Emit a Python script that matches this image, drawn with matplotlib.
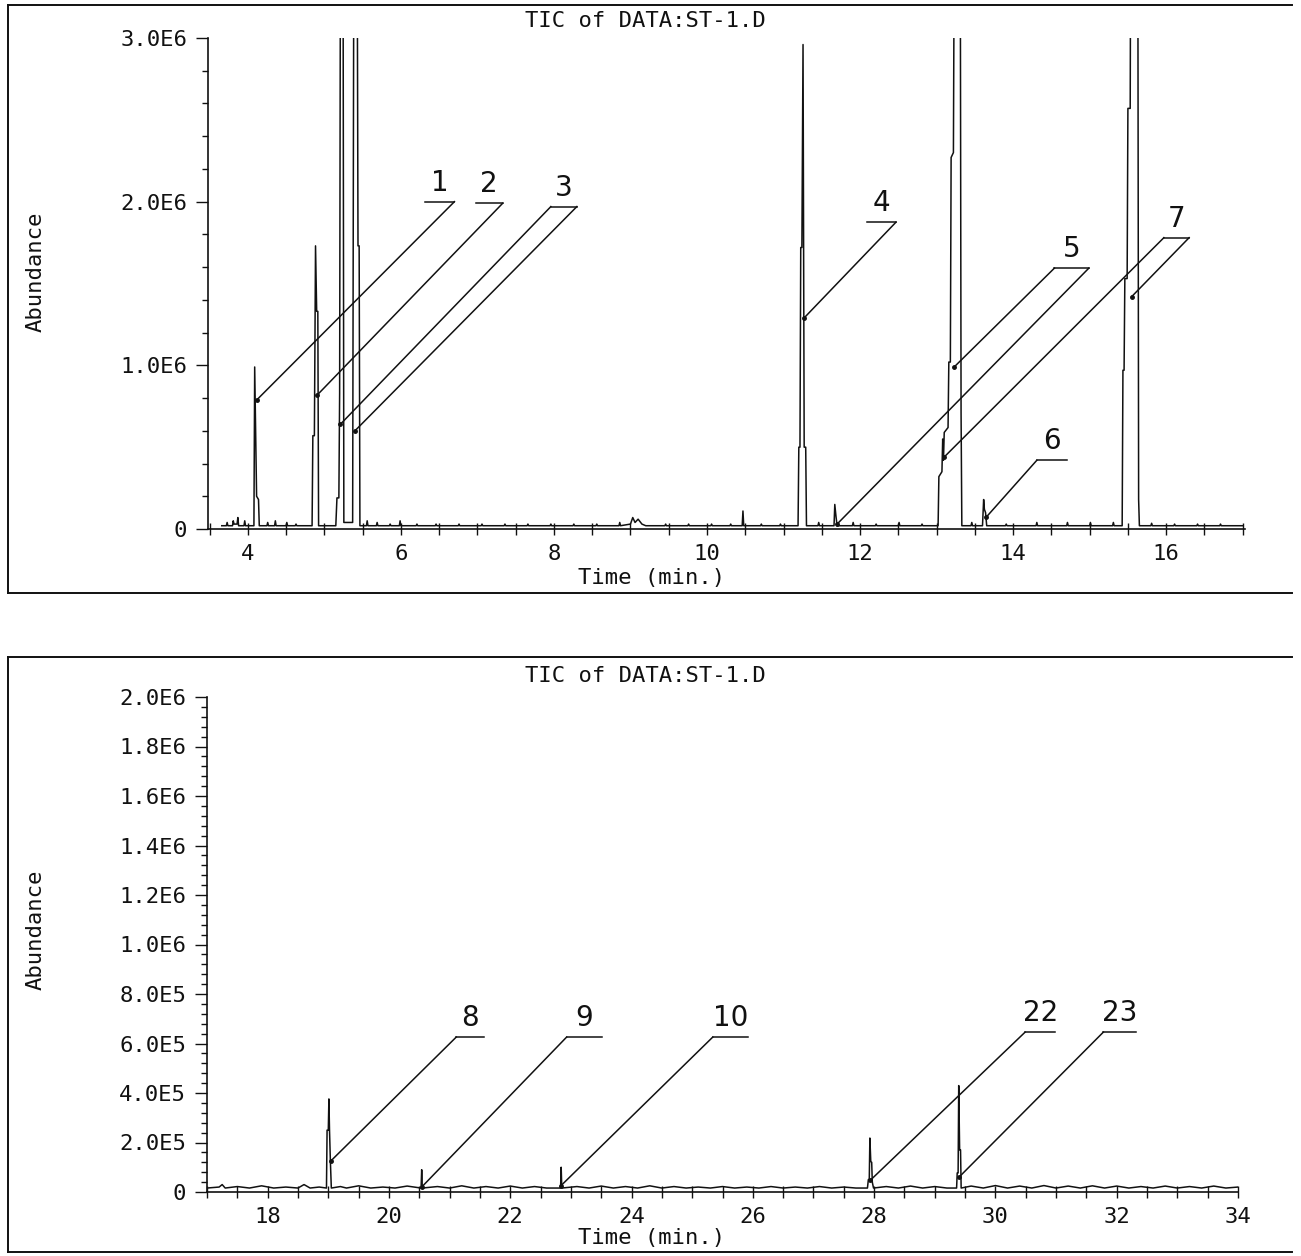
import matplotlib
matplotlib.use("Agg")
import matplotlib.pyplot as plt
from matplotlib.lines import Line2D
from matplotlib.ticker import FixedLocator, MultipleLocator, NullFormatter

# ------------------------------------------------------------------ data
title = "TIC of DATA:ST-1.D"
x_label = "Time (min.)"
y_label = "Abundance"

top_xticks = [4, 6, 8, 10, 12, 14, 16]
top_yticks = [0, 1.0e6, 2.0e6, 3.0e6]
top_yticklabels = ["0", "1.0E6", "2.0E6", "3.0E6"]

bot_xticks = [18, 20, 22, 24, 26, 28, 30, 32, 34]
bot_yticks = [0, 2e5, 4e5, 6e5, 8e5, 1.0e6, 1.2e6, 1.4e6, 1.6e6, 1.8e6, 2.0e6]
bot_yticklabels = ["0", "2.0E5", "4.0E5", "6.0E5", "8.0E5", "1.0E6",
                   "1.2E6", "1.4E6", "1.6E6", "1.8E6", "2.0E6"]

# chromatogram trace, retention time (min) and abundance (x 1E6)
top_time = [3.66, 3.72, 3.73, 3.74, 3.80, 3.81, 3.82, 3.86, 3.87, 3.88, 3.95, 3.96, 3.97,
            4.08, 4.09, 4.115, 4.14, 4.15,
            4.25, 4.26, 4.27, 4.35, 4.36, 4.37, 4.50, 4.51, 4.52, 4.62, 4.63, 4.64,
            4.84, 4.85, 4.87, 4.885, 4.90, 4.915, 4.925,
            5.15, 5.165, 5.19, 5.20, 5.21, 5.245, 5.255, 5.37, 5.385, 5.43, 5.44, 5.455, 5.465,
            5.55, 5.56, 5.57, 5.68, 5.69, 5.70, 5.85, 5.86, 5.87, 5.98, 5.99, 6.00,
            6.20, 6.21, 6.22, 6.45, 6.46, 6.47, 6.75, 6.76, 6.77, 7.05, 7.06, 7.07,
            7.35, 7.36, 7.37, 7.65, 7.66, 7.67, 7.95, 7.96, 7.97, 8.25, 8.26, 8.27,
            8.55, 8.56, 8.57, 8.85, 8.86, 8.87, 9.00, 9.03, 9.06, 9.10, 9.15, 9.20,
            9.45, 9.46, 9.47, 9.75, 9.76, 9.77, 10.05, 10.06, 10.07, 10.30, 10.31, 10.32,
            10.46, 10.47, 10.48, 10.70, 10.71, 10.72, 10.95, 10.96, 10.97,
            11.19, 11.20, 11.215, 11.225, 11.24, 11.255, 11.27, 11.29, 11.30,
            11.45, 11.46, 11.47,
            11.66, 11.67, 11.685, 11.70,
            11.90, 11.91, 11.92, 12.20, 12.21, 12.22, 12.50, 12.51, 12.52, 12.80, 12.81, 12.82,
            13.02, 13.03, 13.07, 13.08, 13.09, 13.10, 13.15, 13.16, 13.18, 13.19, 13.22,
            13.23, 13.31, 13.32, 13.33,
            13.45, 13.46, 13.47,
            13.60, 13.615, 13.625, 13.64, 13.655,
            13.90, 13.91, 13.92, 14.30, 14.31, 14.32, 14.70, 14.71, 14.72, 15.00, 15.01, 15.02,
            15.30, 15.31, 15.32,
            15.425, 15.435, 15.45, 15.46, 15.49, 15.50, 15.53, 15.535, 15.63, 15.64, 15.65,
            15.80, 15.81, 15.82, 16.10, 16.11, 16.12, 16.40, 16.41, 16.42, 16.70, 16.71,
            16.72, 17.00]
top_abund = [0.02, 0.02, 0.04, 0.02, 0.02, 0.05, 0.03, 0.03, 0.07, 0.02, 0.02, 0.05, 0.02,
             0.02, 0.99, 0.20, 0.18, 0.02,
             0.02, 0.04, 0.02, 0.02, 0.05, 0.02, 0.02, 0.04, 0.02, 0.02, 0.03, 0.02,
             0.02, 0.57, 0.57, 1.73, 1.33, 1.33, 0.02,
             0.02, 0.19, 0.19, 0.83, 3.50, 3.50, 0.04, 0.04, 3.50, 3.50, 1.73, 1.73, 0.02,
             0.02, 0.05, 0.02, 0.02, 0.04, 0.02, 0.02, 0.03, 0.02, 0.02, 0.05, 0.02,
             0.02, 0.03, 0.02, 0.02, 0.03, 0.02, 0.02, 0.03, 0.02, 0.02, 0.03, 0.02,
             0.02, 0.03, 0.02, 0.02, 0.03, 0.02, 0.02, 0.03, 0.02, 0.02, 0.03, 0.02,
             0.02, 0.03, 0.02, 0.02, 0.04, 0.02, 0.03, 0.07, 0.04, 0.06, 0.03, 0.02,
             0.02, 0.03, 0.02, 0.02, 0.03, 0.02, 0.02, 0.03, 0.02, 0.02, 0.03, 0.02,
             0.02, 0.11, 0.02, 0.02, 0.03, 0.02, 0.02, 0.03, 0.02,
             0.02, 0.50, 0.50, 1.72, 1.72, 2.96, 0.50, 0.50, 0.02,
             0.02, 0.04, 0.02,
             0.02, 0.15, 0.08, 0.02,
             0.02, 0.04, 0.02, 0.02, 0.03, 0.02, 0.02, 0.04, 0.02, 0.02, 0.03, 0.02,
             0.02, 0.32, 0.35, 0.55, 0.42, 0.59, 0.62, 1.02, 1.02, 2.27, 2.30,
             3.50, 3.50, 0.71, 0.02,
             0.02, 0.04, 0.02,
             0.02, 0.18, 0.12, 0.10, 0.02,
             0.02, 0.03, 0.02, 0.02, 0.04, 0.02, 0.02, 0.04, 0.02, 0.02, 0.04, 0.02,
             0.02, 0.04, 0.02,
             0.02, 0.97, 0.97, 1.53, 1.53, 2.57, 2.57, 3.50, 3.50, 0.18, 0.02,
             0.02, 0.035, 0.02, 0.02, 0.03, 0.02, 0.02, 0.03, 0.02, 0.02, 0.03,
             0.02, 0.02]

bot_time = [17.00, 17.20, 17.25, 17.30, 17.50, 17.70, 17.90, 18.10, 18.30, 18.50, 18.60, 18.70,
            18.85, 18.97, 18.98, 19.00, 19.01, 19.02, 19.035, 19.05,
            19.20, 19.30, 19.50, 19.70, 19.90, 20.10, 20.30,
            20.53, 20.54, 20.55,
            20.80, 21.00, 21.20, 21.40, 21.60, 21.80, 22.00, 22.20, 22.40, 22.60,
            22.83, 22.84, 22.85,
            23.10, 23.30, 23.50, 23.70, 23.90, 24.10, 24.30, 24.50, 24.70, 24.90, 25.10,
            25.30, 25.50, 25.70, 25.90, 26.10, 26.30, 26.50, 26.70, 26.90, 27.10, 27.30,
            27.50, 27.70,
            27.89, 27.905, 27.92, 27.93, 27.945, 27.96, 27.97, 27.99,
            28.20, 28.40, 28.60, 28.80, 29.00, 29.20,
            29.36, 29.37, 29.385, 29.395, 29.41, 29.425, 29.435,
            29.60, 29.80, 30.00, 30.20, 30.40, 30.60, 30.80, 31.00, 31.20, 31.40, 31.60,
            31.80, 32.00, 32.20, 32.40, 32.60, 32.80, 33.00, 33.20, 33.40, 33.60, 33.80, 34.00]
bot_abund = [0.016, 0.020, 0.030, 0.016, 0.022, 0.016, 0.025, 0.016, 0.020, 0.016, 0.030, 0.016,
             0.020, 0.016, 0.250, 0.250, 0.376, 0.250, 0.120, 0.016,
             0.022, 0.016, 0.025, 0.016, 0.020, 0.016, 0.024,
             0.016, 0.090, 0.016,
             0.022, 0.016, 0.025, 0.016, 0.022, 0.016, 0.024, 0.016, 0.022, 0.016,
             0.016, 0.100, 0.016,
             0.022, 0.016, 0.024, 0.016, 0.022, 0.016, 0.025, 0.016, 0.022, 0.016, 0.020,
             0.016, 0.022, 0.016, 0.020, 0.016, 0.022, 0.016, 0.020, 0.016, 0.022, 0.016,
             0.020, 0.016,
             0.016, 0.050, 0.050, 0.218, 0.123, 0.120, 0.040, 0.016,
             0.022, 0.016, 0.024, 0.016, 0.022, 0.016,
             0.016, 0.077, 0.077, 0.430, 0.170, 0.170, 0.016,
             0.024, 0.016, 0.026, 0.016, 0.024, 0.016, 0.026, 0.016, 0.024, 0.016, 0.025,
             0.016, 0.024, 0.016, 0.022, 0.016, 0.024, 0.016, 0.022, 0.016, 0.024, 0.016, 0.020]

# peak labels: number, underline bar (t_left, t_right, abundance x1E6),
# leader lines (t_start, a_start, t_peak, a_peak)
top_labels = ["1", "2", "3", "4", "5", "6", "7"]
top_bars = [(6.31, 6.70, 2.00), (6.98, 7.33, 1.99), (7.96, 8.30, 1.97), (12.09, 12.47, 1.875),
            (14.54, 14.99, 1.594), (14.31, 14.70, 0.42), (15.97, 16.30, 1.78)]
top_leaders = [[(6.70, 2.00, 4.12, 0.79)],
               [(7.33, 1.99, 4.91, 0.82)],
               [(7.96, 1.97, 5.21, 0.64), (8.30, 1.97, 5.40, 0.60)],
               [(12.47, 1.875, 11.27, 1.29)],
               [(14.54, 1.594, 13.23, 0.99), (14.99, 1.594, 11.70, 0.03)],
               [(14.31, 0.42, 13.65, 0.073)],
               [(15.97, 1.78, 13.10, 0.44), (16.30, 1.78, 15.55, 1.42)]]

bot_labels = ["8", "9", "10", "22", "23"]
bot_bars = [(21.11, 21.57, 0.626), (22.93, 23.51, 0.626), (25.34, 25.92, 0.626),
            (30.49, 30.99, 0.646), (31.78, 32.31, 0.646)]
bot_leaders = [[(21.11, 0.626, 19.04, 0.125)],
               [(22.93, 0.626, 20.54, 0.02)],
               [(25.34, 0.626, 22.83, 0.024)],
               [(30.49, 0.646, 27.94, 0.048)],
               [(31.78, 0.646, 29.40, 0.06)]]

# ------------------------------------------------------------------ figure
W, H = 1301, 1256
fig = plt.figure(figsize=(W / 100, H / 100), dpi=100)
fig.patch.set_facecolor("white")

MONO = ["DejaVu Sans Mono"]
TXT = 16
INK = "#111111"


def px_rect(x0, y_top, x1, y_bot):
    return [x0 / W, 1 - y_bot / H, (x1 - x0) / W, (y_bot - y_top) / H]


def style_axes(ax, xlim, ylim, xticks, xminor, yticks, ylabels, yminor):
    ax.set_xlim(*xlim)
    ax.set_ylim(*ylim)
    for s in ("top", "right"):
        ax.spines[s].set_visible(False)
    for s in ("left", "bottom"):
        ax.spines[s].set_linewidth(1.2)
        ax.spines[s].set_color(INK)
    ax.xaxis.set_major_locator(FixedLocator(xticks))
    ax.set_xticklabels([str(v) for v in xticks], family=MONO, fontsize=TXT, color=INK)
    ax.xaxis.set_minor_locator(MultipleLocator(xminor))
    ax.yaxis.set_major_locator(FixedLocator(yticks))
    ax.set_yticklabels(ylabels, family=MONO, fontsize=TXT, color=INK)
    ax.yaxis.set_minor_locator(MultipleLocator(yminor))
    ax.yaxis.set_minor_formatter(NullFormatter())
    ax.tick_params(axis="x", which="both", direction="inout", length=8, width=1.0,
                   color=INK, pad=7)
    ax.tick_params(axis="y", which="major", direction="out", length=9, width=1.0,
                   color=INK, pad=6)
    ax.tick_params(axis="y", which="minor", direction="out", length=4, width=1.0, color=INK)
    ax.patch.set_alpha(0)


def draw_labels(ax, labels, bars, leaders, text_gap):
    for lab, (b0, b1, by), leads in zip(labels, bars, leaders):
        ax.plot([b0, b1], [by * 1e6, by * 1e6], color=INK, lw=1.1, clip_on=False)
        ax.text((b0 + b1) / 2, (by + text_gap) * 1e6, lab, ha="center", va="bottom",
                fontsize=20, family=["DejaVu Sans"], color=INK, clip_on=False)
        for (t0, a0, t1, a1) in leads:
            ax.plot([t0, t1], [a0 * 1e6, a1 * 1e6], color=INK, lw=1.1, clip_on=False)
            ax.plot([t1], [a1 * 1e6], marker="o", ms=2.5, color=INK, clip_on=False)


# ---------------- top panel
ax1 = fig.add_axes(px_rect(208, 38, 1245, 529))
style_axes(ax1, (3.48, 17.03), (0, 3.0e6), top_xticks, 0.5, top_yticks, top_yticklabels, 0.2e6)
ax1.plot(top_time, [a * 1e6 for a in top_abund], color=INK, lw=1.1, clip_on=True)
draw_labels(ax1, top_labels, top_bars, top_leaders, 0.03)

# ---------------- bottom panel
ax2 = fig.add_axes(px_rect(207, 697, 1238, 1192))
style_axes(ax2, (17.0, 34.0), (0, 2.0e6), bot_xticks, 0.5, bot_yticks, bot_yticklabels, 0.04e6)
ax2.plot(bot_time, [a * 1e6 for a in bot_abund], color=INK, lw=1.1, clip_on=True)
draw_labels(ax2, bot_labels, bot_bars, bot_leaders, 0.02)

# ---------------- titles / axis names
for ty, ylab_y, xlab_y in ((21, 272, 578), (676, 930, 1238)):
    fig.text(645 / W, 1 - ty / H, title, ha="center", va="center",
             family=MONO, fontsize=TXT, color=INK)
    fig.text(36 / W, 1 - ylab_y / H, y_label, ha="center", va="center", rotation=90,
             family=MONO, fontsize=TXT, color=INK)
    fig.text(652 / W, 1 - xlab_y / H, x_label, ha="center", va="center",
             family=MONO, fontsize=TXT, color=INK)

# ---------------- page frames around the two printouts
for (yt, yb) in ((5, 593), (657, 1252)):
    fig.add_artist(Line2D([8 / W, 1292 / W], [1 - yt / H, 1 - yt / H],
                          transform=fig.transFigure, color=INK, lw=1.4))
    fig.add_artist(Line2D([8 / W, 1292 / W], [1 - yb / H, 1 - yb / H],
                          transform=fig.transFigure, color=INK, lw=1.4))
    fig.add_artist(Line2D([8 / W, 8 / W], [1 - yt / H, 1 - yb / H],
                          transform=fig.transFigure, color=INK, lw=1.4))

fig.savefig("out.png", dpi=100, facecolor="white")
